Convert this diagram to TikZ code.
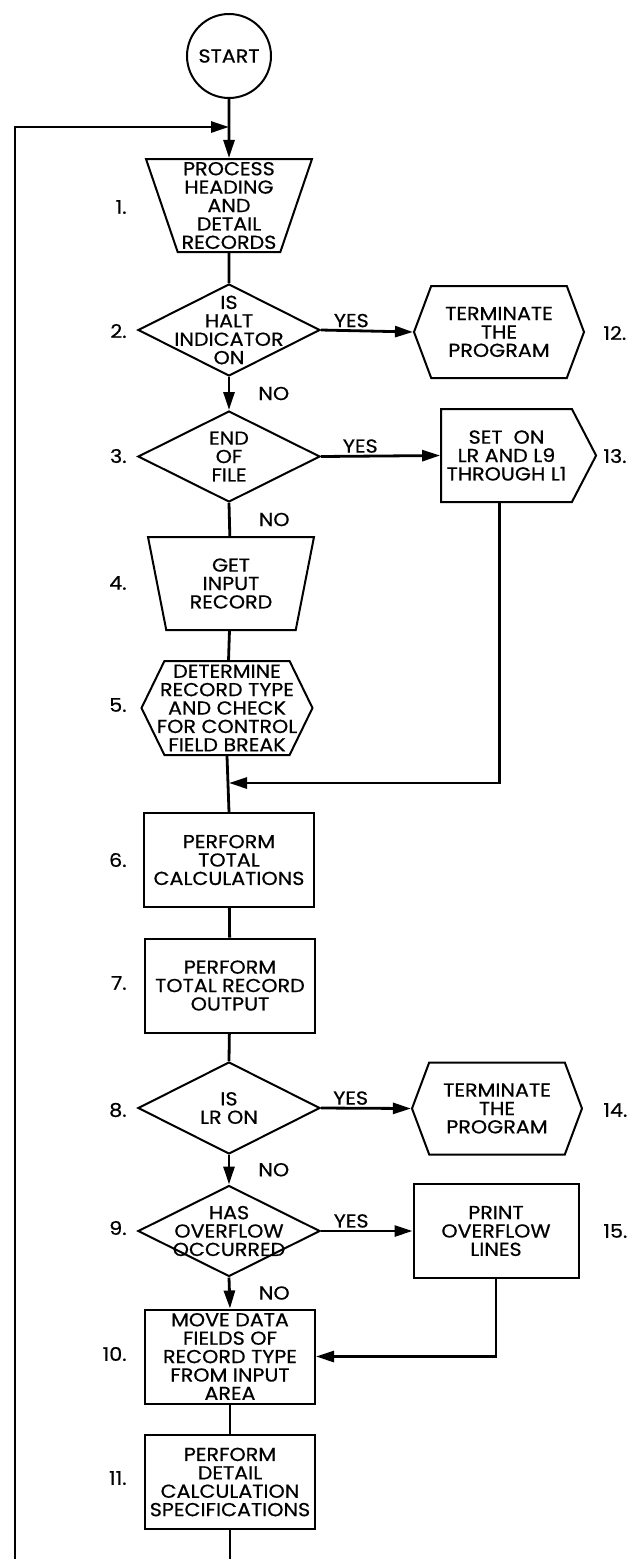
\documentclass[tikz,border=0pt]{standalone}
\usepackage{fontspec}
\setmainfont{Poppins}[FakeBold=0.6, FakeStretch=1.1]
\usetikzlibrary{arrows.meta, shapes.geometric, shapes.symbols}

\begin{document}
\begin{tikzpicture}[
        x=0.5pt, y=-0.5pt,
        font=\fontsize{9.4}{9.2}\selectfont,
        every node/.style={align=center, inner sep=0pt},
        outline/.style={draw, line width=1pt},
        terminal/.style={outline, circle, minimum size=42pt},
        process/.style={outline, rectangle, minimum width=85pt, minimum height=47pt},
        io/.style={
            outline, trapezium, shape border rotate=180,
            trapezium angle=70, trapezium stretches body, inner xsep=-3pt,
            minimum width=83pt, minimum height=46.5pt
        },
        decision/.style={
            outline, diamond, aspect=1.94, inner sep=-13pt,
            minimum width=91pt, minimum height=46pt
        },
        stopbox/.style={
            outline, signal, signal to=west and east,
            signal pointer angle=139,
            minimum width=85pt, minimum height=46pt
        },
        prep/.style={
            outline, signal, signal to=west and east,
            signal pointer angle=128, inner xsep=-8pt,
            minimum width=85.5pt, minimum height=47pt
        },
        flag/.style={
            outline, signal, signal from=nowhere, signal to=east,
            signal pointer angle=125,
            minimum width=77.5pt, minimum height=46.5pt
        },
        num/.style={anchor=east},
        numr/.style={anchor=west},
        line/.style={line width=1.4pt},
        arrow/.style={line, -{Triangle[length=9pt, width=5.5pt]}},
        yes/.style={above=1pt, pos=0.33},
        no/.style={right=14pt, midway}
    ]

    \useasboundingbox (0,0) rectangle (641,1559);

    % main column
    \node[terminal] (start) at (229,56) {START};
    \node[io] (b1) at (229,205.5) {PROCESS\\HEADING\\AND\\DETAIL\\RECORDS};
    \node[decision] (d2) at (229,330) {IS\\HALT\\INDICATOR\\ON};
    \node[decision, minimum height=45.5pt] (d3) at (229,456.5) {END\\OF\\FILE};
    \node[io] (b4) at (231,583.5) {GET\\INPUT\\RECORD};
    \node[prep] (h5) at (227,708) {DETERMINE\\RECORD TYPE\\AND CHECK\\FOR CONTROL\\FIELD BREAK};
    \node[process] (b6) at (229,860) {PERFORM\\TOTAL\\CALCULATIONS};
    \node[process] (b7) at (230,985.5) {PERFORM\\TOTAL RECORD\\OUTPUT};
    \node[decision] (d8) at (229,1108) {IS\\LR ON};
    \node[decision, minimum height=45.5pt] (d9) at (229,1231) {HAS\\OVERFLOW\\OCCURRED};
    \node[process] (b10) at (230,1356.5) {MOVE DATA\\FIELDS OF\\RECORD TYPE\\FROM INPUT\\AREA};
    \node[process] (b11) at (230,1482) {PERFORM\\DETAIL\\CALCULATION\\SPECIFICATIONS};

    % right column
    \node[stopbox] (t12) at (499,332) {TERMINATE\\THE\\PROGRAM};
    \node[flag] (s13) at (506.5,455.5) {SET~~ON\\LR AND L9\\THROUGH L1};
    \node[stopbox] (t14) at (497,1108.5) {TERMINATE\\THE\\PROGRAM};
    \node[process, minimum width=82.5pt] (b15) at (496,1231) {PRINT\\OVERFLOW\\LINES};

    % step numbers
    \node[num] (n1) at (127,207) {1.};
    \node[num] (n2) at (127,331) {2.};
    \node[num] (n3) at (127,456) {3.};
    \node[num] (n4) at (127,583) {4.};
    \node[num] (n5) at (127,705) {5.};
    \node[num] (n6) at (127,860) {6.};
    \node[num] (n7) at (127,983) {7.};
    \node[num] (n8) at (127,1110) {8.};
    \node[num] (n9) at (127,1228) {9.};
    \node[num] (n10) at (127,1354) {10.};
    \node[num] (n11) at (127,1478) {11.};
    \node[numr] (n12) at (603,333) {12.};
    \node[numr] (n13) at (603,456) {13.};
    \node[numr] (n14) at (603,1110) {14.};
    \node[numr] (n15) at (603,1231) {15.};

    \coordinate (loopin) at (229,127);
    \coordinate (join) at (229,783);
    \coordinate (cutl) at (15,1559);

    \draw[arrow] (start) -- (b1);
    \draw[line] (b1) -- (d2);
    \draw[arrow] (d2.east) -- node[yes] (y2) {YES} (t12.west);
    \draw[arrow] (d2.south) -- node[no] (no2) {NO} (d3.north);
    \draw[arrow] (d3.east) -- node[yes] (y3) {YES} (s13.west);
    \draw[line] (d3.south) -- node[no] (no3) {NO} (b4);
    \draw[line] (b4) -- (h5);
    \draw[line] (h5.south) -- (b6.north);
    \draw[arrow] ([xshift=-3.5pt]s13.south) |- (join);
    \draw[line] (b6) -- (b7);
    \draw[line] (b7) -- (d8.north);
    \draw[arrow] (d8.east) -- node[yes] (y8) {YES} (t14.west);
    \draw[arrow] (d8.south) -- node[no] (no8) {NO} (d9.north);
    \draw[arrow] (d9.east) -- node[yes] (y9) {YES} (b15.west);
    \draw[arrow] (d9.south) -- node[no] (no9) {NO} (b10.north);
    \draw[arrow] (b15.south) |- (b10.east);
    \draw[line] (b10) -- (b11);
    \draw[line] (b11.south) -- (b11.south |- cutl);
    \draw[arrow] (cutl) |- (loopin);

\end{tikzpicture}
\end{document}
